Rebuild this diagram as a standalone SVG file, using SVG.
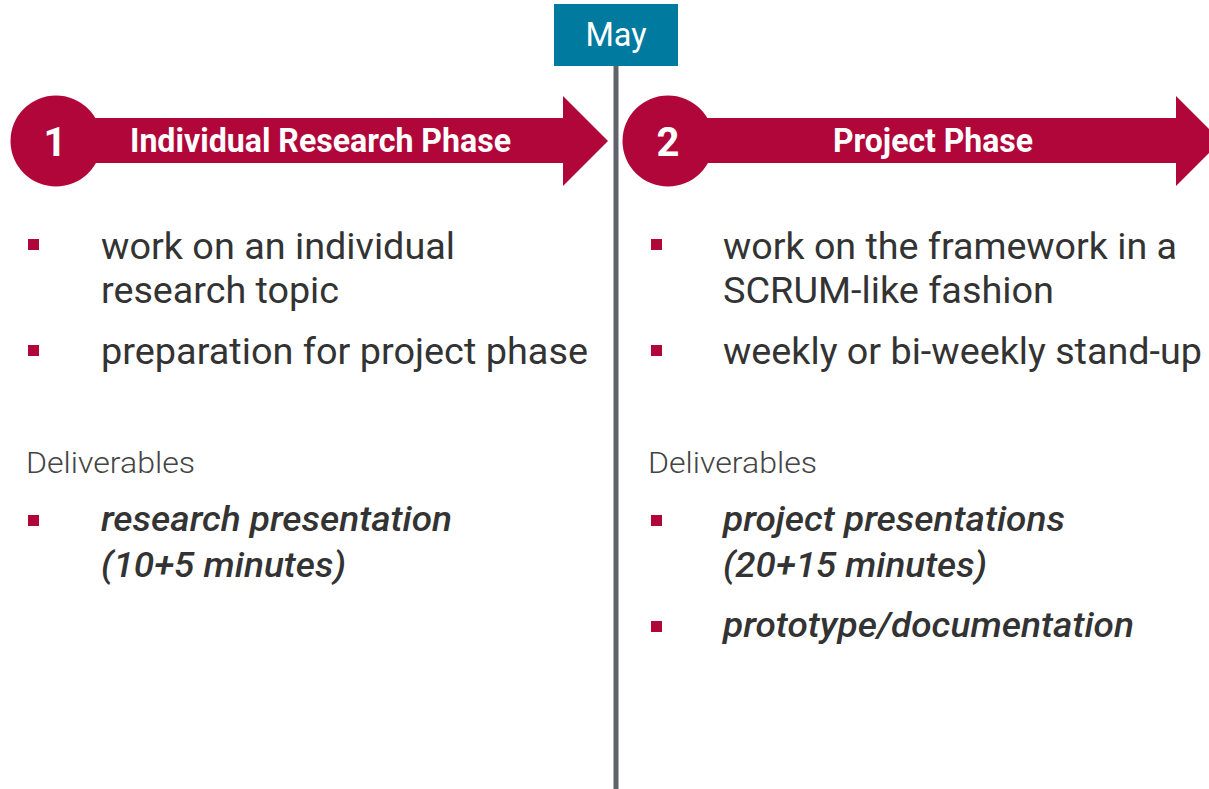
<svg xmlns="http://www.w3.org/2000/svg" width="1209" height="789" viewBox="0 0 1209 789">
<style>
.band{fill:#B1063A}
.num{font-family:Roboto,"Liberation Sans",sans-serif;font-weight:700;font-size:40px;fill:#fff;text-anchor:middle}
.head{font-family:Roboto,"Liberation Sans",sans-serif;font-weight:700;font-size:33px;fill:#fff}
.body{font-family:Roboto,"Liberation Sans",sans-serif;font-size:36px;fill:#333}
.deliv{font-family:Roboto,"Liberation Sans",sans-serif;font-weight:300;font-size:30px;fill:#444}
.ital{font-family:Roboto,"Liberation Sans",sans-serif;font-style:italic;font-weight:500;font-size:35px;fill:#333}
.bul{fill:#B1063A}
</style>
<g id="timeline">
<rect x="613.5" y="60" width="5" height="729" fill="#5F636A"/>
</g>
<g id="may">
<rect x="554" y="4" width="124" height="62" fill="#007A9E"/>
<text x="616" y="46" font-family="Roboto,'Liberation Sans',sans-serif" font-size="32.5" fill="#fff" text-anchor="middle">May</text>
</g>
<g id="phase1">
<polygon class="band" points="55,118 563,118 563,96 608,141 563,186 563,163 55,163"/>
<ellipse class="band" cx="56" cy="141" rx="45.5" ry="45.5"/>
<text class="num" x="55" y="156">1</text>
<text class="head" x="130" y="152" textLength="381" lengthAdjust="spacingAndGlyphs">Individual Research Phase</text>
</g>
<g id="phase2">
<polygon class="band" points="668,118 1176,118 1176,96 1221,141 1176,186 1176,163 668,163"/>
<ellipse class="band" cx="668" cy="141" rx="45.5" ry="45.5"/>
<text class="num" x="668" y="156">2</text>
<text class="head" x="833" y="152" textLength="200" lengthAdjust="spacingAndGlyphs">Project Phase</text>
</g>
<g id="left-content">
<rect class="bul" x="28" y="239" width="11" height="11"/>
<text class="body" x="101" y="259" textLength="354" lengthAdjust="spacingAndGlyphs">work on an individual</text>
<text class="body" x="101" y="303" textLength="238" lengthAdjust="spacingAndGlyphs">research topic</text>
<rect class="bul" x="28" y="345" width="11" height="11"/>
<text class="body" x="101" y="364" textLength="487" lengthAdjust="spacingAndGlyphs">preparation for project phase</text>
<text class="deliv" x="26" y="473" textLength="169" lengthAdjust="spacingAndGlyphs">Deliverables</text>
<rect class="bul" x="28" y="515" width="11" height="11"/>
<text class="ital" x="101" y="531" textLength="351" lengthAdjust="spacingAndGlyphs">research presentation</text>
<text class="ital" x="101" y="577" textLength="245" lengthAdjust="spacingAndGlyphs">(10+5 minutes)</text>
</g>
<g id="right-content">
<rect class="bul" x="651" y="239" width="11" height="11"/>
<text class="body" x="723" y="259" textLength="454" lengthAdjust="spacingAndGlyphs">work on the framework in a</text>
<text class="body" x="723" y="303" textLength="331" lengthAdjust="spacingAndGlyphs">SCRUM-like fashion</text>
<rect class="bul" x="651" y="345" width="11" height="11"/>
<text class="body" x="723" y="364" textLength="479" lengthAdjust="spacingAndGlyphs">weekly or bi-weekly stand-up</text>
<text class="deliv" x="648" y="473" textLength="169" lengthAdjust="spacingAndGlyphs">Deliverables</text>
<rect class="bul" x="651" y="515" width="11" height="11"/>
<text class="ital" x="723" y="531" textLength="342" lengthAdjust="spacingAndGlyphs">project presentations</text>
<text class="ital" x="723" y="577" textLength="264" lengthAdjust="spacingAndGlyphs">(20+15 minutes)</text>
<rect class="bul" x="651" y="621" width="11" height="11"/>
<text class="ital" x="723" y="637" textLength="411" lengthAdjust="spacingAndGlyphs">prototype/documentation</text>
</g>
</svg>
